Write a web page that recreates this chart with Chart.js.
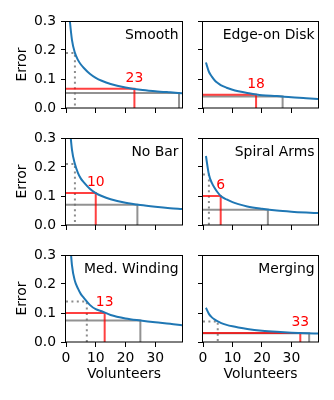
<!DOCTYPE html>
<html>
<head>
<meta charset="utf-8">
<script src="https://cdn.jsdelivr.net/npm/chart.js@4.4.0/dist/chart.umd.min.js"></script>
<style>
  html, body { margin: 0; padding: 0; background: #fff; }
  body { width: 334px; height: 400px; position: relative; overflow: hidden; }
  canvas { position: absolute; }
</style>
</head>
<body>
<script>
// number of volunteers (x) shared by every panel
const volunteers = [1, 2, 3, 4, 5, 6, 8, 10, 12, 15, 20, 25, 30, 35, 39];

// error at those volunteer counts
const errSmooth   = [0.330, 0.235, 0.190, 0.166, 0.150, 0.138, 0.118, 0.104, 0.094, 0.083, 0.071, 0.063, 0.058, 0.054, 0.051];
const errEdgeOn   = [0.157, 0.125, 0.108, 0.095, 0.086, 0.079, 0.070, 0.063, 0.058, 0.052, 0.044, 0.041, 0.037, 0.034, 0.031];
const errNoBar    = [0.370, 0.260, 0.210, 0.180, 0.160, 0.147, 0.125, 0.110, 0.100, 0.089, 0.077, 0.069, 0.063, 0.058, 0.055];
const errSpiral   = [0.238, 0.174, 0.145, 0.127, 0.112, 0.100, 0.088, 0.079, 0.072, 0.064, 0.056, 0.050, 0.046, 0.043, 0.041];
const errWinding  = [0.400, 0.265, 0.210, 0.185, 0.165, 0.152, 0.128, 0.113, 0.106, 0.093, 0.081, 0.074, 0.068, 0.063, 0.058];
const errMerging  = [0.118, 0.097, 0.085, 0.077, 0.071, 0.066, 0.059, 0.054, 0.050, 0.045, 0.039, 0.035, 0.032, 0.030, 0.029];

const panelNames = ['Smooth', 'Edge-on Disk', 'No Bar', 'Spiral Arms', 'Med. Winding', 'Merging'];

// red marker (labelled), grey marker and dotted marker: volunteers and error
const redX  = [23, 18, 10, 6, 13, 33];
const redY  = [0.066, 0.046, 0.110, 0.100, 0.100, 0.031];
const greyX = [38, 27, 24, 22, 25, 36];
const greyY = [0.052, 0.040, 0.070, 0.053, 0.074, 0.030];
const dotX  = [3, null, 3, 2, 7, 5];
const dotY  = [0.190, null, 0.210, 0.174, 0.140, 0.071];

const yTicks = [0, 0.1, 0.2, 0.3];
const xTicks = [0, 10, 20, 30];

const panelErrors = [errSmooth, errEdgeOn, errNoBar, errSpiral, errWinding, errMerging];

const FONT = 'DejaVu Sans';
const FS = 13.9;
Chart.defaults.font.family = FONT;
Chart.defaults.font.size = FS;
Chart.defaults.color = '#000';

function corner(x, y) {
    return [{ x: 0, y: y }, { x: x, y: y }, { x: x, y: 0 }];
}

const panelDeco = {
    id: 'panelDeco',
    afterDatasetsDraw(chart, args, opts) {
        const { ctx, chartArea: a, scales } = chart;
        ctx.save();
        // frame
        ctx.strokeStyle = '#000';
        ctx.lineWidth = 1;
        ctx.strokeRect(Math.round(a.left) - 0.5, Math.round(a.top) + 0.5,
            Math.round(a.right - a.left) + 1, Math.round(a.bottom - a.top) - 0.5);
        // name
        ctx.font = FS + 'px "' + FONT + '"';
        ctx.fillStyle = '#000';
        ctx.textAlign = 'right';
        ctx.textBaseline = 'alphabetic';
        ctx.fillText(opts.name, a.right - 3.5, a.top + 17.7);
        // red count
        ctx.fillStyle = '#ff0000';
        ctx.textAlign = 'center';
        ctx.fillText(String(opts.rx), scales.x.getPixelForValue(opts.rx), scales.y.getPixelForValue(opts.ry) - 7);
        ctx.restore();
    }
};

panelNames.forEach((name, i) => {
    const col = i % 2;
    const row = Math.floor(i / 2);
    const bottomRow = row === 2;
    const leftCol = col === 0;

    const plotTop = 21 + 117 * row;
    const xH = bottomRow ? 46 : 8;
    const cv = document.createElement('canvas');
    const w = leftCol ? 186 : 124;
    const h = 10 + 87 + xH;
    cv.width = w;
    cv.height = h;
    cv.style.left = (leftCol ? 0 : 198) + 'px';
    cv.style.top = (plotTop - 10) + 'px';
    document.body.appendChild(cv);

    const datasets = [
        {
            data: volunteers.map((v, k) => ({ x: v, y: panelErrors[i][k] })),
            borderColor: '#1f77b4', borderWidth: 2, pointRadius: 0,
            cubicInterpolationMode: 'monotone'
        },
        {
            data: corner(redX[i], redY[i]),
            borderColor: 'rgba(255,0,0,0.75)', borderWidth: 2, pointRadius: 0, tension: 0
        },
        {
            data: corner(greyX[i], greyY[i]),
            borderColor: 'rgba(110,110,110,0.75)', borderWidth: 2, pointRadius: 0, tension: 0
        }
    ];
    if (dotX[i] !== null) {
        datasets.push({
            data: corner(dotX[i], dotY[i]),
            borderColor: 'rgba(128,128,128,0.9)', borderWidth: 2, pointRadius: 0, tension: 0,
            borderDash: [2, 3.4]
        });
    }

    new Chart(cv, {
        type: 'line',
        data: { datasets: datasets },
        options: {
            responsive: false,
            animation: false,
            devicePixelRatio: 1,
            layout: { padding: { top: 10, right: 4, bottom: 0, left: 0 } },
            plugins: {
                legend: { display: false },
                tooltip: { enabled: false },
                panelDeco: { name: name, rx: redX[i], ry: redY[i] }
            },
            scales: {
                x: {
                    type: 'linear', min: 0, max: 39,
                    afterBuildTicks: s => { s.ticks = xTicks.map(v => ({ value: v })); },
                    afterFit: s => { s.height = xH; s.paddingLeft = 0; s.paddingRight = 0; },
                    border: { display: false },
                    grid: { drawOnChartArea: false, drawTicks: true, tickLength: 5, tickColor: '#000', tickWidth: 1 },
                    ticks: { display: bottomRow, padding: 3, maxRotation: 0, color: '#000' },
                    title: { display: bottomRow, text: 'Volunteers', color: '#000', padding: { top: 0, bottom: 5 } }
                },
                y: {
                    type: 'linear', min: 0, max: 0.3,
                    afterBuildTicks: s => { s.ticks = yTicks.map(v => ({ value: v })); },
                    afterFit: s => { s.width = leftCol ? 66 : 5; s.paddingTop = 0; s.paddingBottom = 0; },
                    border: { display: false },
                    grid: { drawOnChartArea: false, drawTicks: true, tickLength: 5, tickColor: '#000', tickWidth: 1 },
                    ticks: { display: leftCol, padding: 5, color: '#000', callback: v => v.toFixed(1) },
                    title: { display: leftCol, text: 'Error', color: '#000', padding: { top: 13.7, bottom: 0 } }
                }
            }
        },
        plugins: [panelDeco]
    });
});
</script>
</body>
</html>
